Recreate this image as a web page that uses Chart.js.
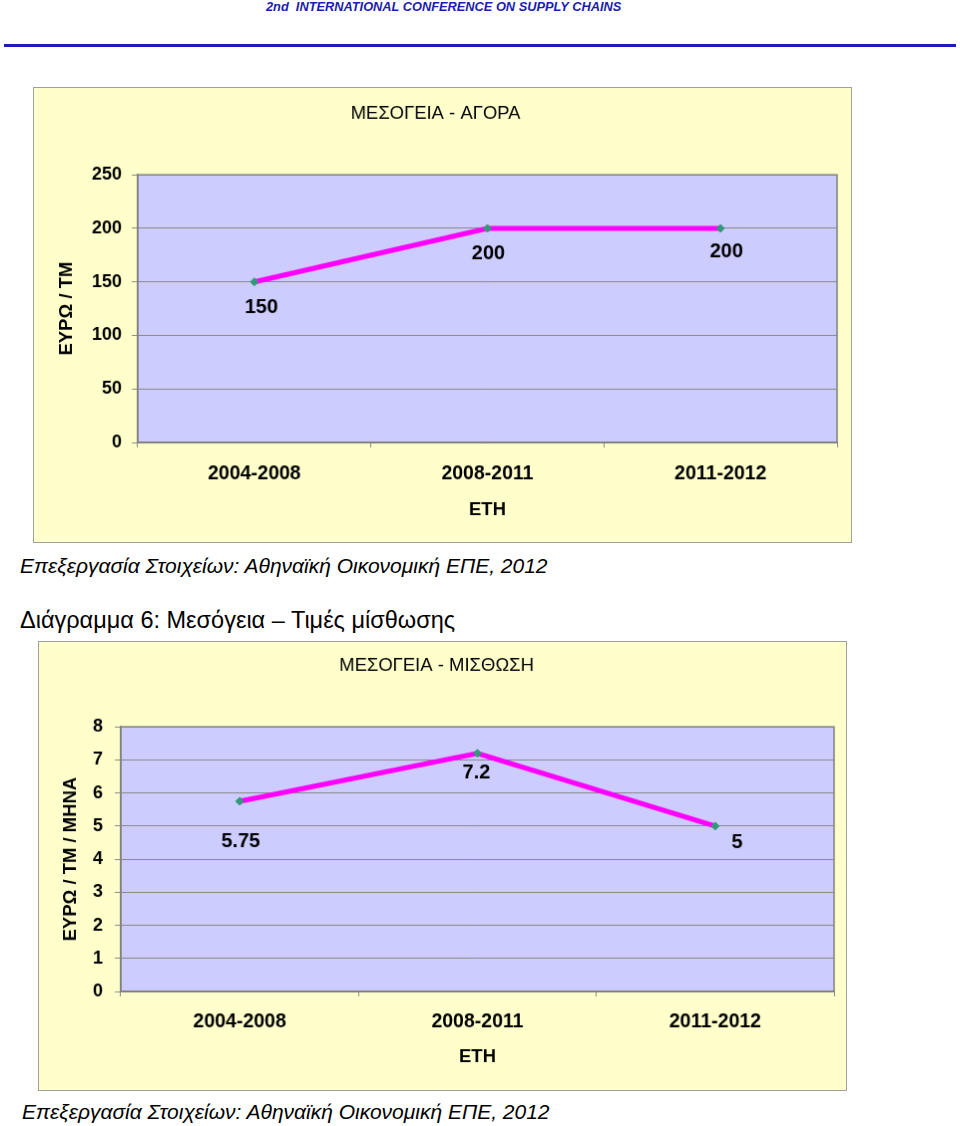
<!DOCTYPE html>
<html lang="el">
<head>
<meta charset="UTF-8">
<title>Μεσόγεια</title>
<script src="https://cdn.jsdelivr.net/npm/chart.js"></script>
<style>
  body { margin: 0; background: #fff; font-family: "Liberation Sans", Arial, sans-serif; }
  .abs { position: absolute; white-space: nowrap; }
  #header { left: 266px; top: 0; font-size: 12.8px; font-weight: bold; font-style: italic; color: #1c1cb0; line-height: 14px; }
  #rule { left: 4px; top: 44px; width: 952px; height: 3px; background: #1c1cb4; }
  .cap { font-size: 21px; font-style: italic; color: #000; line-height: 24px; }
  #fig { left: 20px; top: 606px; font-size: 23.5px; line-height: 28px; }
  canvas { position: absolute; background: #ffffcc; border: 1px solid #a0a0a0; }
</style>
</head>
<body>
<div id="header" class="abs">2nd&nbsp; INTERNATIONAL CONFERENCE ON SUPPLY CHAINS</div>
<div id="rule" class="abs"></div>

<canvas id="buy" width="819" height="456" style="left:33px;top:87px"></canvas>
<div class="abs cap" style="left:20px;top:554px">Επεξεργασία Στοιχείων: Αθηναϊκή Οικονομική ΕΠΕ, 2012</div>

<div id="fig" class="abs">Διάγραμμα 6: Μεσόγεια – Τιμές μίσθωσης</div>
<canvas id="rent" width="809" height="450" style="left:38px;top:641px"></canvas>
<div class="abs cap" style="left:22px;top:1100px">Επεξεργασία Στοιχείων: Αθηναϊκή Οικονομική ΕΠΕ, 2012</div>

<script>
// data
const periods = ['2004-2008', '2008-2011', '2011-2012'];
const buyPrices = [150, 200, 200];     // ΕΥΡΩ / ΤΜ
const rentPrices = [5.75, 7.2, 5];     // ΕΥΡΩ / ΤΜ / ΜΗΝΑ

const FONT = '"Liberation Sans", Arial, sans-serif';
const GRID = '#8a8a8a';

// lavender plot area with border
const plotBg = {
  id: 'plotBg',
  beforeDraw(chart) {
    const {ctx, chartArea: a} = chart;
    ctx.save();
    ctx.fillStyle = '#ccccff';
    ctx.fillRect(a.left, a.top, a.right - a.left, a.bottom - a.top);
    ctx.restore();
  },
  beforeDatasetsDraw(chart) {
    const {ctx, chartArea: a} = chart;
    ctx.save();
    ctx.strokeStyle = '#808080';
    ctx.lineWidth = 1.5;
    ctx.strokeRect(a.left, a.top, a.right - a.left, a.bottom - a.top);
    ctx.restore();
  }
};

// value labels next to points
const pointLabels = {
  id: 'pointLabels',
  afterDatasetsDraw(chart, args, opts) {
    const {ctx} = chart;
    const meta = chart.getDatasetMeta(0);
    const values = chart.data.datasets[0].data;
    ctx.save();
    ctx.font = 'bold 20px ' + FONT;
    ctx.fillStyle = '#000';
    ctx.textAlign = 'center';
    ctx.textBaseline = 'middle';
    meta.data.forEach((pt, i) => {
      const off = opts.offsets[i];
      ctx.fillText(String(values[i]), pt.x + off[0], pt.y + off[1]);
    });
    ctx.restore();
  }
};

function makeChart(id, values, cfg) {
  return new Chart(document.getElementById(id), {
    type: 'line',
    data: {
      labels: periods,
      datasets: [{
        data: values,
        borderColor: '#ff00ff',
        borderWidth: 5,
        tension: 0,
        pointStyle: 'rectRot',
        pointRadius: 4,
        pointBackgroundColor: '#339977',
        pointBorderColor: '#339977',
        pointBorderWidth: 1
      }]
    },
    options: {
      responsive: false,
      animation: false,
      layout: { padding: { left: 0, right: cfg.rightPad, top: 0, bottom: 0 } },
      plugins: {
        legend: { display: false },
        tooltip: { enabled: false },
        title: {
          display: true,
          text: cfg.title,
          color: '#000',
          font: { family: FONT, size: 18.5, weight: 'normal' },
          padding: cfg.titlePad
        },
        pointLabels: { offsets: cfg.labelOffsets }
      },
      scales: {
        x: {
          offset: true,
          grid: { display: true, drawOnChartArea: false, drawTicks: true, tickLength: 5, color: GRID, offset: true },
          border: { display: true, color: '#808080', width: 1.5 },
          ticks: { color: '#000', font: { family: FONT, size: 19.5, weight: 'bold' }, padding: cfg.xTickPad, maxRotation: 0 },
          title: { display: true, text: 'ΕΤΗ', color: '#000', font: { family: FONT, size: 18.5, weight: 'bold' }, padding: { top: 0, bottom: cfg.xTitlePad } },
          afterFit(s) { s.height = cfg.xHeight; }
        },
        y: {
          min: 0,
          max: cfg.max,
          grid: { color: GRID, lineWidth: 1, tickLength: 6 },
          border: { display: true, color: '#808080', width: 1.5 },
          ticks: { stepSize: cfg.step, color: '#000', font: { family: FONT, size: 18, weight: 'bold' }, padding: cfg.yTickPad },
          title: { display: true, text: cfg.yTitle, color: '#000', font: { family: FONT, size: 18.5, weight: 'bold' }, padding: { top: cfg.yTitlePad, bottom: 0 } },
          afterFit(s) { s.width = cfg.yWidth; }
        }
      }
    },
    plugins: [plotBg, pointLabels]
  });
}

makeChart('buy', buyPrices, {
  title: 'ΜΕΣΟΓΕΙΑ - ΑΓΟΡΑ',
  titlePad: { top: 15, bottom: 50 },
  max: 250, step: 50,
  yTitle: 'ΕΥΡΩ / ΤΜ',
  yWidth: 104, yTickPad: 10, yTitlePad: 22,
  xHeight: 100, xTickPad: 15, xTitlePad: 21,
  rightPad: 14,
  labelOffsets: [[7, 26], [1, 26], [6, 24]]
});

makeChart('rent', rentPrices, {
  title: 'ΜΕΣΟΓΕΙΑ - ΜΙΣΘΩΣΗ',
  titlePad: { top: 13, bottom: 50 },
  max: 8, step: 1,
  yTitle: 'ΕΥΡΩ / ΤΜ / ΜΗΝΑ',
  yWidth: 82, yTickPad: 12, yTitlePad: 21,
  xHeight: 99, xTickPad: 14, xTitlePad: 22,
  rightPad: 12,
  labelOffsets: [[1, 41], [-1, 20], [22, 17]]
});
</script>
</body>
</html>
